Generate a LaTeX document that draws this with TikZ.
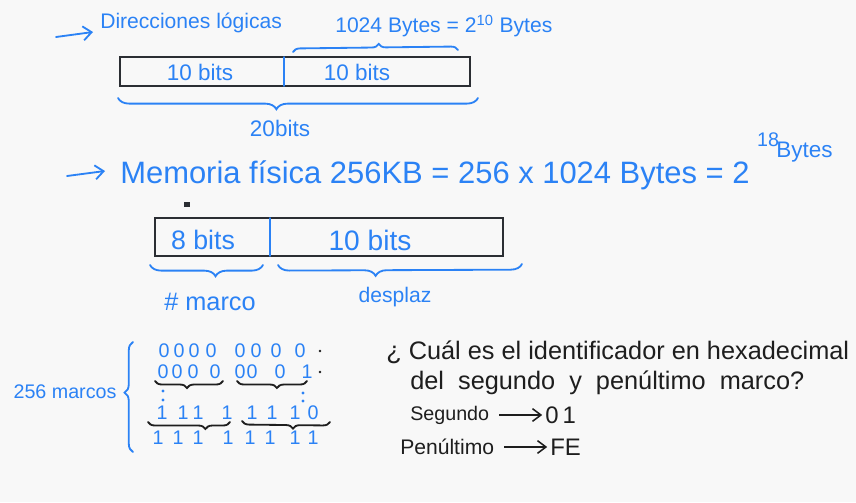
\documentclass[tikz,border=0pt]{standalone}
\usepackage{fontspec}
\setmainfont{Liberation Sans}
\usepackage{xcolor}
\usetikzlibrary{arrows.meta, decorations.pathreplacing}
\definecolor{penblue}{HTML}{2B82F5}
\definecolor{pendark}{HTML}{1E1E1E}
\definecolor{boxline}{HTML}{2B2E33}
\definecolor{paperbg}{HTML}{F8F8F8}
\tikzset{
  ink/.style={text=penblue, inner sep=0pt},
  inkdark/.style={text=pendark, inner sep=0pt},
  bitbox/.style={draw=boxline, line width=1.8pt, inner sep=0pt},
  penline/.style={draw=penblue, line width=1.3pt, line cap=round},
  penbrace/.style={penline, decorate, decoration={brace, amplitude=#1}},
  penbrace/.default=6pt,
  darkbrace/.style={draw=pendark, line width=1.3pt, line cap=round, decorate, decoration={brace, amplitude=#1}},
  darkbrace/.default=5pt,
  penarrow/.style={penline, -{Straight Barb[length=6pt, width=10pt]}},
  darkarrow/.style={draw=pendark, line width=1.1pt, -{Straight Barb[length=6pt, width=9pt]}},
  digit/.style={ink, font=\fontsize{14}{16}\selectfont}
}

\begin{document}
\begin{tikzpicture}[x=0.025cm, y=-0.025cm]
\fill[paperbg] (0,0) rectangle (856,502);
\useasboundingbox (0,0) rectangle (856,502);

% direcciones logicas
\coordinate (arr1s) at (56,37);
\coordinate (arr1e) at (93,32);
\draw[penarrow] (arr1s) -- (arr1e);
\node[ink, font=\fontsize{15}{18}\selectfont, anchor=west] (dirlog) at (100,23) {Direcciones lógicas};
\node[ink, font=\fontsize{15}{18}\selectfont, anchor=west] (pagesize) at (335,26) {1024 Bytes = 2\textsuperscript{10} Bytes};

\node[bitbox, minimum width=8.75cm, minimum height=0.725cm] (logbox) at (295,71.5) {};
\draw[penline] (284,57) -- (284,86);
\node[ink, font=\fontsize{16}{19}\selectfont] (pagebits) at (200,72) {10 bits};
\node[ink, font=\fontsize{16}{19}\selectfont] (offbits) at (357,72) {10 bits};
\draw[penbrace=5pt, decoration={aspect=0.52}] (293,52) -- (458,50);
\draw[penbrace=8pt, decoration={mirror, aspect=0.44}] (118,98) -- (478,98);
\node[ink, font=\fontsize{16}{19}\selectfont] (logtotal) at (280,128) {20bits};

% memoria fisica
\coordinate (arr2s) at (67,176);
\coordinate (arr2e) at (105,171);
\draw[penarrow] (arr2s) -- (arr2e);
\node[ink, font=\fontsize{22}{26}\selectfont, anchor=base west] (memfis) at (120,183) {Memoria física 256KB = 256 x 1024 Bytes = 2};
\node[ink, font=\fontsize{14}{16}\selectfont] (memexp) at (768,140) {18};
\node[ink, font=\fontsize{16}{19}\selectfont, anchor=west] (membytes) at (776,152) {Bytes};
\fill[boxline] (184,202) rectangle (190,207);

\node[bitbox, minimum width=8.7cm, minimum height=0.95cm] (fisbox) at (329,237) {};
\draw[penline] (270,218) -- (270,256);
\node[ink, font=\fontsize{19}{22}\selectfont] (marcobits) at (203,240) {8 bits};
\node[ink, font=\fontsize{20}{24}\selectfont] (despbits) at (370,240) {10 bits};
\draw[penbrace=8pt, decoration={mirror, aspect=0.58}] (150,265) -- (263,265);
\draw[penbrace=8pt, decoration={mirror, aspect=0.40}] (278,265) -- (522,264);
\node[ink, font=\fontsize{18}{21}\selectfont] (marco) at (210,302) {\# marco};
\node[ink, font=\fontsize{15}{18}\selectfont] (desplaz) at (395,297) {desplaz};

% 256 marcos
\draw[penbrace=6pt, decoration={aspect=0.54}] (133,452) -- (133,342);
\node[ink, font=\fontsize{14}{17}\selectfont] (nmarcos) at (65,392) {256 marcos};
\foreach \x [count=\i] in {164,179,194,211,240,256,276,300}
  \node[digit] (ra-\i) at (\x,351) {0};
\foreach \x/\d [count=\i] in {163/0,177/0,193/0,215/0,240/0,252/0,280/0,307/1}
  \node[digit] (rb-\i) at (\x,372) {\d};
\foreach \x/\d [count=\i] in {162/1,183/1,198/1,227/1,252/1,272/1,295/1,313/0}
  \node[digit] (rc-\i) at (\x,413) {\d};
\foreach \x [count=\i] in {158,178,198,228,250,270,295,313}
  \node[digit] (rd-\i) at (\x,438) {1};
\fill[pendark] (320,351) circle (1pt) (320,372) circle (1pt);
\fill[penblue] (163,391) circle (1.1pt) (163,400) circle (1.1pt)
               (303,393) circle (1.1pt) (303,401) circle (1.1pt);
\draw[darkbrace, decoration={mirror, aspect=0.47}] (155,381) -- (223,381);
\draw[darkbrace, decoration={mirror, aspect=0.57}] (237,381) -- (307,381);
\draw[darkbrace, decoration={mirror, aspect=0.70}] (148,422) -- (230,422);
\draw[darkbrace, decoration={mirror, aspect=0.58}] (242,421) -- (330,422);

% pregunta
\node[inkdark, font=\fontsize{18}{21}\selectfont, anchor=west] (preg1) at (386,352) {¿ Cuál es el identificador en hexadecimal};
\node[inkdark, font=\fontsize{18}{21}\selectfont, anchor=west] (preg2) at (410,383) {del \ segundo \ y \ penúltimo \ marco?};
\node[inkdark, font=\fontsize{14}{17}\selectfont, anchor=west] (segundo) at (410,415) {Segundo};
\node[inkdark, font=\fontsize{17}{20}\selectfont, anchor=west] (segundohex) at (545,415) {0\,1};
\draw[darkarrow] ([xshift=7pt]segundo.east) -- ([xshift=-2pt]segundohex.west);
\node[inkdark, font=\fontsize{15}{18}\selectfont, anchor=west] (penultimo) at (400,447) {Penúltimo};
\node[inkdark, font=\fontsize{17}{20}\selectfont, anchor=west] (penultimohex) at (550,447) {FE};
\draw[darkarrow] ([xshift=7pt]penultimo.east) -- ([xshift=-2pt]penultimohex.west);
\end{tikzpicture}
\end{document}
